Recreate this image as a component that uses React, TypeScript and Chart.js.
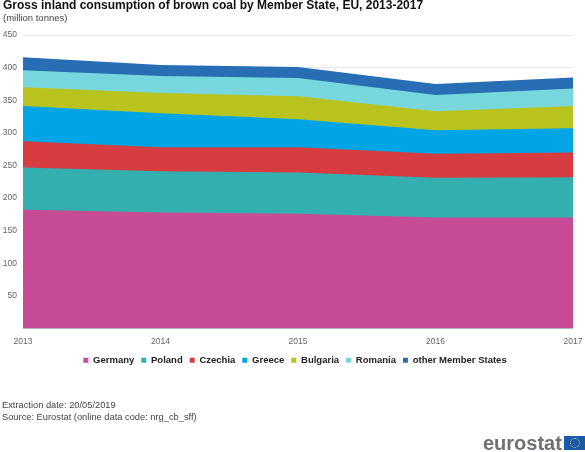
import React, { useEffect, useRef } from "react";
import { Chart, registerables } from "chart.js";

Chart.register(...registerables);

const years = ["2013", "2014", "2015", "2016", "2017"];
const germany = [182, 178, 176, 170, 170];
const poland = [65, 63, 63, 61, 62];
const czechia = [40, 37, 39, 37, 38];
const greece = [54, 52, 43, 36, 37];
const bulgaria = [29, 31, 35, 29, 34];
const romania = [26, 26, 28, 25, 27];
const otherStates = [20, 17, 17, 17, 17];
const yTicks = [50, 100, 150, 200, 250, 300, 350, 400, 450];

const seriesNames = ["Germany", "Poland", "Czechia", "Greece", "Bulgaria", "Romania", "other Member States"];
const seriesValues = [germany, poland, czechia, greece, bulgaria, romania, otherStates];
const seriesColors = ["#C84B96", "#33AFAF", "#D73C41", "#00A5E6", "#B9C31E", "#78D7DC", "#286EB4"];

const SANS = '"Liberation Sans", Arial, sans-serif';

const nudgeLegend = {
  id: "nudgeLegend",
  afterLayout(chart: any) {
    chart.legend.left += 6;
    chart.legend.right += 6;
  },
};

export default function App() {
  const ref = useRef<HTMLCanvasElement>(null);
  useEffect(() => {
    const chart = new Chart(ref.current!, {
      type: "line",
      plugins: [nudgeLegend],
      data: {
        labels: years,
        datasets: seriesNames.map((name, i) => ({
          label: name,
          data: seriesValues[i],
          backgroundColor: seriesColors[i],
          borderColor: seriesColors[i],
          borderWidth: 0,
          pointRadius: 0,
          fill: true,
          tension: 0,
        })),
      },
      options: {
        animation: false,
        responsive: false,
        layout: { padding: { top: 35, right: 7, bottom: 77, left: 0 } },
        scales: {
          x: {
            offset: false,
            grid: { display: false, drawTicks: false },
            border: { display: false },
            ticks: { color: "#666666", font: { family: SANS, size: 8.5 }, maxRotation: 0, padding: 8 },
            afterFit: (s: any) => { s.height = 20; s.paddingRight = 12; s.paddingLeft = 0; },
          },
          y: {
            stacked: true,
            min: 0,
            max: 450,
            afterBuildTicks: (s: any) => { s.ticks = yTicks.map((value) => ({ value })); },
            grid: { color: "#E6E6E6", lineWidth: 1, drawTicks: false },
            border: { display: false },
            ticks: { color: "#666666", font: { family: SANS, size: 8.5 }, padding: 6 },
            afterFit: (s: any) => { s.width = 23; },
          },
        },
        plugins: {
          tooltip: { enabled: false },
          legend: {
            position: "bottom",
            labels: {
              usePointStyle: true,
              pointStyle: "rect",
              boxWidth: 5,
              boxHeight: 5,
              padding: 7,
              color: "#222222",
              font: { family: SANS, size: 9.5, weight: "bold" },
            },
          },
        },
      },
    } as any);
    return () => chart.destroy();
  }, []);

  const text = (top: number, left: number, style: React.CSSProperties, content: string) => (
    <div style={{ position: "absolute", top, left, fontFamily: SANS, whiteSpace: "nowrap", lineHeight: 1, ...style }}>{content}</div>
  );

  return (
    <div style={{ position: "fixed", left: 0, top: 0, width: 585, height: 452, background: "#fff", overflow: "hidden" }}>
      <canvas ref={ref} width={585} height={452} style={{ position: "absolute", left: 0, top: 0 }} />
      {text(-1, 3, { fontSize: 12, fontWeight: "bold", color: "#111" }, "Gross inland consumption of brown coal by Member State, EU, 2013-2017")}
      {text(13, 3, { fontSize: 9.5, color: "#444" }, "(million tonnes)")}
      {text(401, 2, { fontSize: 9.3, color: "#444" }, "Extraction date: 20/05/2019")}
      {text(413, 2, { fontSize: 9.3, color: "#444" }, "Source: Eurostat (online data code: nrg_cb_sff)")}
      {text(433, 483, { fontSize: 20, fontWeight: "bold", color: "#6E7276" }, "eurostat")}
      <div style={{ position: "absolute", left: 564, top: 436, width: 21, height: 14, background: "#1B5AA8", display: "flex", alignItems: "center", justifyContent: "center" }}>
        <div style={{ width: 8, height: 8, borderRadius: "50%", border: "1px dotted #E8D44A" }} />
      </div>
    </div>
  );
}
